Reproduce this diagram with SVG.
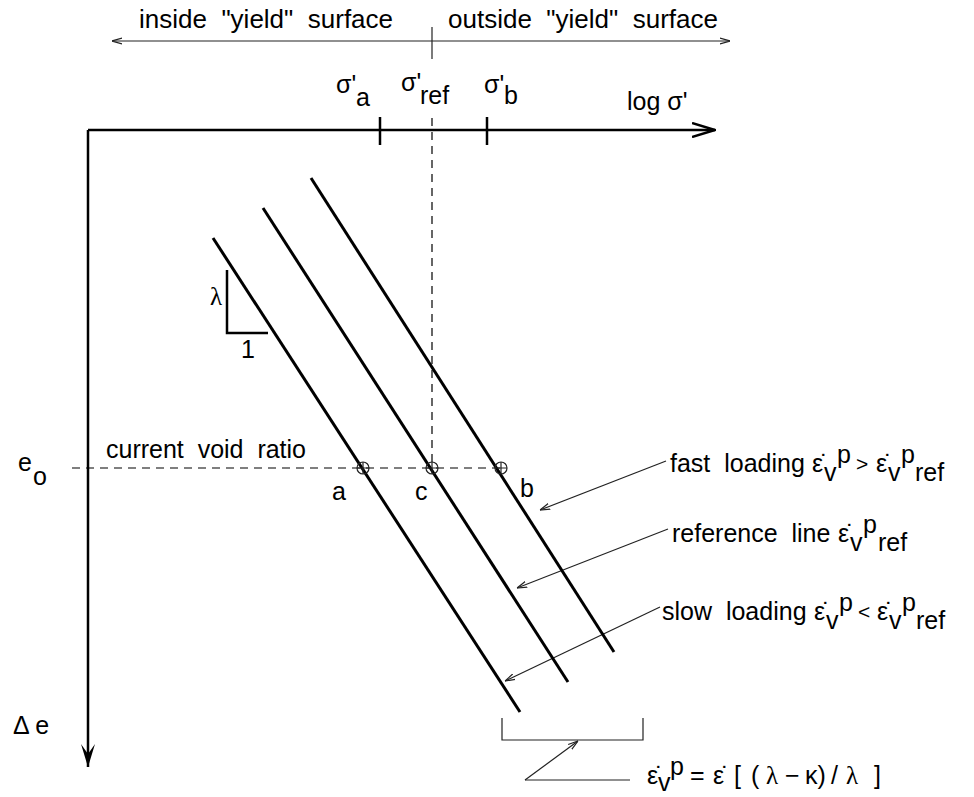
<svg xmlns="http://www.w3.org/2000/svg" width="974" height="797" viewBox="0 0 974 797">
<defs>
<style>
text{font-family:"Liberation Sans",Arial,sans-serif;font-size:25px;fill:#000;white-space:pre}
.top{font-size:26px}
.sym{font-family:"Liberation Serif","Times New Roman",serif}
.rel{font-size:21px}
.thick{stroke:#000;stroke-width:3;fill:none}
.axis{stroke:#000;stroke-width:2.5;fill:none}
.thin{stroke:#222;stroke-width:1.2;fill:none}
.dash{stroke:#000;stroke-width:1.2;stroke-dasharray:8,6;fill:none}
</style>
<marker id="small" viewBox="0 0 10 10" refX="10" refY="5" markerWidth="10" markerHeight="10" markerUnits="userSpaceOnUse" orient="auto">
<path d="M0,2 L10,5 L0,8" fill="none" stroke="#222" stroke-width="1.2"/>
</marker>
<marker id="open" viewBox="0 0 24 16" refX="23" refY="8" markerWidth="24" markerHeight="16" markerUnits="userSpaceOnUse" orient="auto">
<path d="M0,1 L23,8 L0,15" fill="none" stroke="#000" stroke-width="2.5"/>
</marker>
<marker id="down" viewBox="0 0 16 24" refX="8" refY="23" markerWidth="16" markerHeight="24" markerUnits="userSpaceOnUse" orient="0">
<path d="M1,0 L8,23 L15,0 L8,10 Z" fill="#000"/>
</marker>
</defs>

<g id="zones">
<line x1="432" y1="41" x2="112" y2="41" class="thin" marker-end="url(#small)"/>
<line x1="432" y1="41" x2="730" y2="41" class="thin" marker-end="url(#small)"/>
<line x1="432" y1="27" x2="432" y2="59" class="thin"/>
<text x="139" y="28" class="top">inside  "yield"  surface</text>
<text x="448" y="28" class="top">outside  "yield"  surface</text>
</g>

<g id="axes">
<line x1="88" y1="130" x2="715" y2="130" class="axis" marker-end="url(#open)"/>
<line x1="88" y1="130" x2="88" y2="767" class="axis" marker-end="url(#down)"/>
<line x1="380" y1="117" x2="380" y2="145" class="axis"/>
<line x1="487" y1="117" x2="487" y2="145" class="axis"/>
<text x="627" y="110" font-size="24">log σ'</text>
<text x="336" y="93" font-size="23">σ'</text><text x="356" y="106">a</text>
<text x="401" y="91" font-size="23">σ'</text><text x="420" y="104">ref</text>
<text x="484" y="93" font-size="23">σ'</text><text x="504" y="104">b</text>
<text x="13" y="734" font-size="24">Δ e</text>
<text x="18" y="471">e<tspan x="33" y="485">o</tspan></text>
</g>

<g id="connectors">
<line x1="432" y1="118" x2="432" y2="468" class="dash"/>
<line x1="72" y1="468" x2="501" y2="468" class="dash"/>
<line x1="666" y1="461" x2="540" y2="510" class="thin" marker-end="url(#small)"/>
<line x1="668" y1="529" x2="517" y2="588" class="thin" marker-end="url(#small)"/>
<line x1="660" y1="607" x2="505" y2="681" class="thin" marker-end="url(#small)"/>
<polyline points="630,780 525,780" class="thin"/>
<line x1="525" y1="780" x2="578" y2="741" class="thin" marker-end="url(#small)"/>
</g>

<g id="line-a">
<line x1="213" y1="238" x2="520" y2="712" class="thick"/>
<circle cx="363" cy="468" r="6" class="thin"/><path d="M357,468 H369 M363,462 V474" class="thin"/>
<text x="332" y="500" font-size="24">a</text>
</g>
<g id="line-c">
<line x1="263" y1="208" x2="568" y2="682" class="thick"/>
<circle cx="432" cy="468" r="6" class="thin"/><path d="M426,468 H438 M432,462 V474" class="thin"/>
<text x="415" y="500" font-size="24">c</text>
</g>
<g id="line-b">
<line x1="311" y1="178" x2="614" y2="652" class="thick"/>
<circle cx="501" cy="468" r="6" class="thin"/><path d="M495,468 H507 M501,462 V474" class="thin"/>
<text x="520" y="497" font-size="24">b</text>
</g>

<g id="slope">
<polyline points="227,270 227,333 268,333" class="axis"/>
<text x="210" y="305" class="sym" font-size="26">λ</text>
<text x="241" y="358" font-size="24">1</text>
</g>

<g id="void-ratio">
<text x="106" y="458" font-size="24" textLength="200" lengthAdjust="spacing">current  void  ratio</text>
</g>

<g id="label-fast">
<text x="670" y="472">fast  loading</text>
<text x="812" y="472">ε̇<tspan x="824" y="481">v</tspan><tspan x="837" y="463">p</tspan></text>
<text x="856" y="471" class="rel">&gt;</text>
<text x="876" y="472">ε̇<tspan x="888" y="481">v</tspan><tspan x="901" y="463">p</tspan><tspan x="915" y="481">ref</tspan></text>
</g>
<g id="label-ref">
<text x="672" y="542">reference  line</text>
<text x="838" y="542">ε̇<tspan x="850" y="551">v</tspan><tspan x="863" y="533">p</tspan><tspan x="878" y="551">ref</tspan></text>
</g>
<g id="label-slow">
<text x="662" y="620">slow  loading</text>
<text x="814" y="620">ε̇<tspan x="826" y="629">v</tspan><tspan x="839" y="611">p</tspan></text>
<text x="858" y="619" class="rel">&lt;</text>
<text x="877" y="620">ε̇<tspan x="889" y="629">v</tspan><tspan x="902" y="611">p</tspan><tspan x="916" y="629">ref</tspan></text>
</g>

<g id="bracket">
<polyline points="502,718 502,740 643,740 643,718" class="thin"/>
<text x="647" y="784" font-size="24">ε̇<tspan x="658" y="791">v</tspan><tspan x="670" y="775">p</tspan><tspan x="690" y="784">=</tspan><tspan x="713" y="784">ε̇</tspan><tspan x="734" y="784">[</tspan><tspan x="751" y="784">(</tspan><tspan x="766" y="784" class="sym">λ</tspan><tspan x="785" y="784">−</tspan><tspan x="805" y="784">κ)</tspan><tspan x="831" y="784">/</tspan><tspan x="846" y="784" class="sym">λ</tspan><tspan x="874" y="784">]</tspan></text>
</g>
</svg>
